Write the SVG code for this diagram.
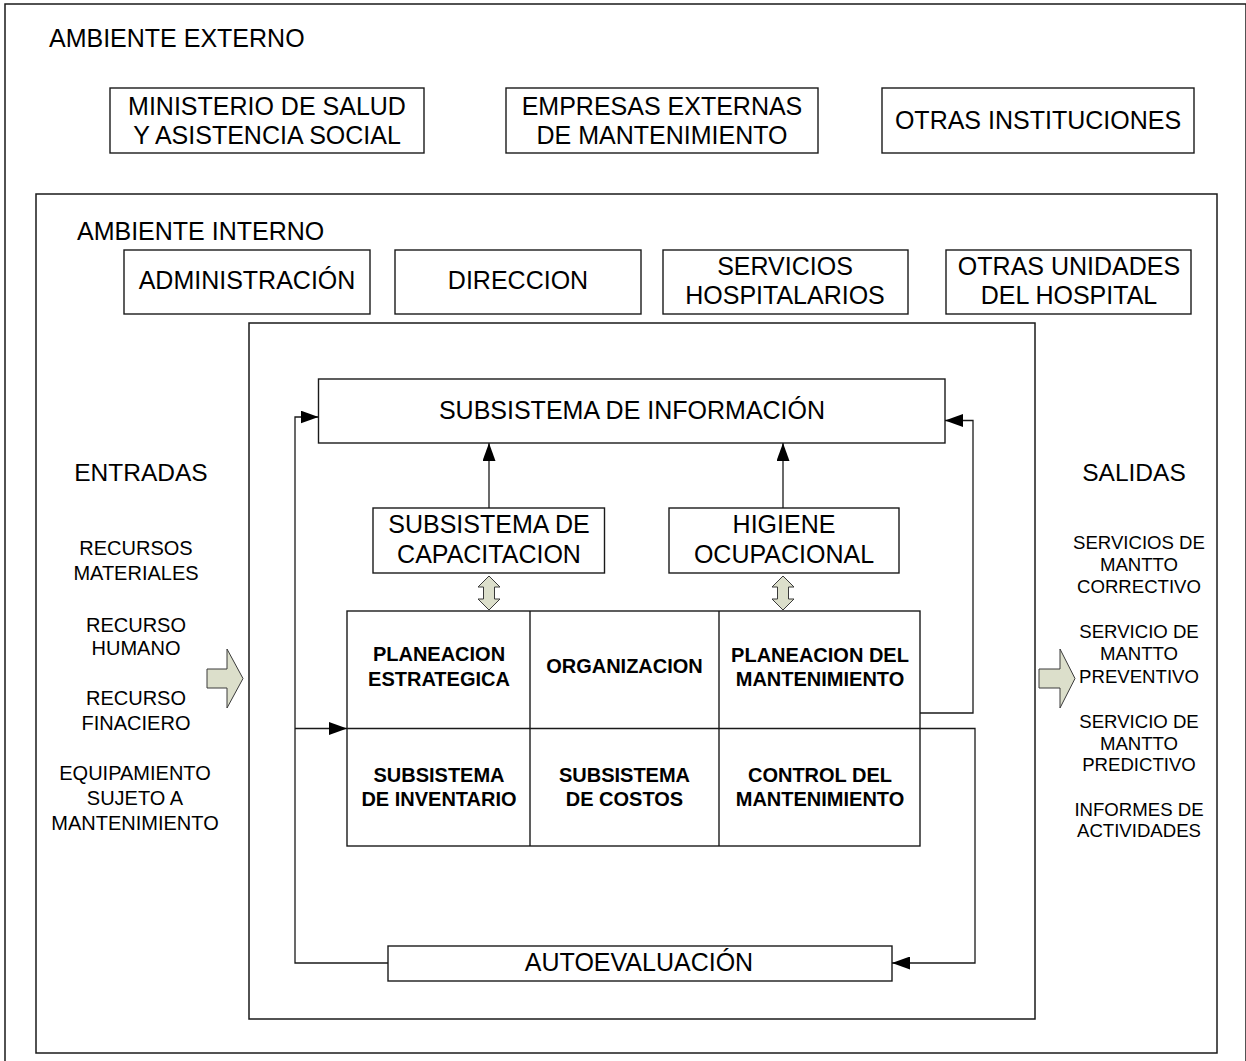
<svg xmlns="http://www.w3.org/2000/svg" width="1246" height="1061" viewBox="0 0 1246 1061">
  <style>
    .frame { fill: none; stroke: #1a1a1a; stroke-width: 1.5; }
    .box { fill: #ffffff; stroke: #1a1a1a; stroke-width: 1.4; }
    .grid { fill: none; stroke: #1a1a1a; stroke-width: 1.4; }
    .conn { fill: none; stroke: #1a1a1a; stroke-width: 1.3; }
    .blk { fill: #dcdfcb; stroke: #3a3a3a; stroke-width: 1; }
    text { font-family: "Liberation Sans", Arial, sans-serif; fill: #000000; }
    .t { font-size: 25px; text-anchor: middle; }
    .lbl { font-size: 25px; }
    .hdr { font-size: 24.5px; text-anchor: middle; }
    .tb { font-size: 20px; font-weight: bold; text-anchor: middle; }
    .in { font-size: 20px; text-anchor: middle; }
    .out { font-size: 18.6px; text-anchor: middle; }
  </style>
  <defs>
    <marker id="arrow" markerUnits="userSpaceOnUse" markerWidth="18" markerHeight="13" refX="18" refY="6.5" orient="auto">
      <path d="M0,0 L18,6.5 L0,13 z" fill="#000000"/>
    </marker>
  </defs>

  <!-- outer environment frame -->
  <g id="ambiente-externo">
    <rect class="frame" x="5" y="4" width="1241" height="1075"/>
    <text class="lbl" x="49" y="47">AMBIENTE EXTERNO</text>
  </g>

  <g id="ministerio">
    <rect class="box" x="110" y="88" width="314" height="65"/>
    <text class="t" x="267" y="115">MINISTERIO DE SALUD</text>
    <text class="t" x="267" y="144">Y ASISTENCIA SOCIAL</text>
  </g>
  <g id="empresas">
    <rect class="box" x="506" y="88" width="312" height="65"/>
    <text class="t" x="662" y="115">EMPRESAS EXTERNAS</text>
    <text class="t" x="662" y="144">DE MANTENIMIENTO</text>
  </g>
  <g id="otras-instituciones">
    <rect class="box" x="882" y="88" width="312" height="65"/>
    <text class="t" x="1038" y="129">OTRAS INSTITUCIONES</text>
  </g>

  <!-- internal environment frame -->
  <g id="ambiente-interno">
    <rect class="frame" x="36" y="194" width="1181" height="859"/>
    <text class="lbl" x="77" y="240">AMBIENTE INTERNO</text>
  </g>

  <g id="administracion">
    <rect class="box" x="124" y="250" width="246" height="64"/>
    <text class="t" x="247" y="289">ADMINISTRACIÓN</text>
  </g>
  <g id="direccion">
    <rect class="box" x="395" y="250" width="246" height="64"/>
    <text class="t" x="518" y="289">DIRECCION</text>
  </g>
  <g id="servicios-hospitalarios">
    <rect class="box" x="663" y="250" width="245" height="64"/>
    <text class="t" x="785" y="275">SERVICIOS</text>
    <text class="t" x="785" y="304">HOSPITALARIOS</text>
  </g>
  <g id="otras-unidades">
    <rect class="box" x="946" y="250" width="245" height="64"/>
    <text class="t" x="1069" y="275">OTRAS UNIDADES</text>
    <text class="t" x="1069" y="304">DEL HOSPITAL</text>
  </g>

  <!-- maintenance system frame -->
  <g id="sistema">
    <rect class="frame" x="249" y="323" width="786" height="696"/>
  </g>

  <!-- inputs -->
  <g id="entradas">
    <text class="hdr" x="141" y="481">ENTRADAS</text>
    <text class="in" x="136" y="555">RECURSOS</text>
    <text class="in" x="136" y="580">MATERIALES</text>
    <text class="in" x="136" y="632">RECURSO</text>
    <text class="in" x="136" y="655">HUMANO</text>
    <text class="in" x="136" y="705">RECURSO</text>
    <text class="in" x="136" y="730">FINACIERO</text>
    <text class="in" x="135" y="780">EQUIPAMIENTO</text>
    <text class="in" x="135" y="805">SUJETO A</text>
    <text class="in" x="135" y="830">MANTENIMIENTO</text>
    <polygon class="blk" points="207,669 227,669 227,649 243,678.5 227,708 227,688 207,688"/>
  </g>

  <!-- outputs -->
  <g id="salidas">
    <text class="hdr" x="1134" y="481">SALIDAS</text>
    <text class="out" x="1139" y="549">SERVICIOS DE</text>
    <text class="out" x="1139" y="571">MANTTO</text>
    <text class="out" x="1139" y="593">CORRECTIVO</text>
    <text class="out" x="1139" y="638">SERVICIO DE</text>
    <text class="out" x="1139" y="660">MANTTO</text>
    <text class="out" x="1139" y="683">PREVENTIVO</text>
    <text class="out" x="1139" y="728">SERVICIO DE</text>
    <text class="out" x="1139" y="750">MANTTO</text>
    <text class="out" x="1139" y="771">PREDICTIVO</text>
    <text class="out" x="1139" y="816">INFORMES DE</text>
    <text class="out" x="1139" y="837">ACTIVIDADES</text>
    <polygon class="blk" points="1039,669 1060,669 1060,649 1075,678.5 1060,708 1060,688 1039,688"/>
  </g>

  <g id="subsistema-informacion">
    <rect class="box" x="318.5" y="379" width="626.5" height="64"/>
    <text class="t" x="632" y="419">SUBSISTEMA DE INFORMACIÓN</text>
  </g>
  <g id="subsistema-capacitacion">
    <rect class="box" x="373" y="508" width="231.5" height="65"/>
    <text class="t" x="489" y="533">SUBSISTEMA DE</text>
    <text class="t" x="489" y="563">CAPACITACION</text>
  </g>
  <g id="higiene-ocupacional">
    <rect class="box" x="669" y="508" width="230" height="65"/>
    <text class="t" x="784" y="533">HIGIENE</text>
    <text class="t" x="784" y="563">OCUPACIONAL</text>
  </g>

  <!-- two-way links between the side subsystems and the core grid -->
  <g id="enlaces-dobles">
    <polygon class="blk" points="489,576 500,587 494.5,587 494.5,599 500,599 489,610 478,599 483.5,599 483.5,587 478,587"/>
    <polygon class="blk" points="783,576 794,587 788.5,587 788.5,599 794,599 783,610 772,599 777.5,599 777.5,587 772,587"/>
  </g>

  <!-- core function grid -->
  <g id="nucleo">
    <rect class="grid" x="347" y="611" width="573" height="235"/>
    <line class="grid" x1="530" y1="611" x2="530" y2="846"/>
    <line class="grid" x1="719" y1="611" x2="719" y2="846"/>
    <line class="grid" x1="347" y1="728.5" x2="920" y2="728.5"/>
  </g>
  <g id="planeacion-estrategica">
    <text class="tb" x="439" y="661">PLANEACION</text>
    <text class="tb" x="439" y="686">ESTRATEGICA</text>
  </g>
  <g id="organizacion">
    <text class="tb" x="624.5" y="673">ORGANIZACION</text>
  </g>
  <g id="planeacion-mantenimiento">
    <text class="tb" x="820" y="662">PLANEACION DEL</text>
    <text class="tb" x="820" y="686">MANTENIMIENTO</text>
  </g>
  <g id="subsistema-inventario">
    <text class="tb" x="439" y="782">SUBSISTEMA</text>
    <text class="tb" x="439" y="806">DE INVENTARIO</text>
  </g>
  <g id="subsistema-costos">
    <text class="tb" x="624.5" y="782">SUBSISTEMA</text>
    <text class="tb" x="624.5" y="806">DE COSTOS</text>
  </g>
  <g id="control-mantenimiento">
    <text class="tb" x="820" y="782">CONTROL DEL</text>
    <text class="tb" x="820" y="806">MANTENIMIENTO</text>
  </g>

  <g id="autoevaluacion">
    <rect class="box" x="388" y="946" width="504" height="35"/>
    <text class="t" x="639" y="971">AUTOEVALUACIÓN</text>
  </g>

  <!-- feedback and information flows -->
  <g id="conectores">
    <path class="conn" d="M388,963 H295 V417 H318.5" marker-end="url(#arrow)"/>
    <path class="conn" d="M295,728.5 H347" marker-end="url(#arrow)"/>
    <path class="conn" d="M489,508 V443" marker-end="url(#arrow)"/>
    <path class="conn" d="M783,508 V443" marker-end="url(#arrow)"/>
    <path class="conn" d="M920,713 H973 V420.5 H945" marker-end="url(#arrow)"/>
    <path class="conn" d="M920,728.5 H975 V963 H892" marker-end="url(#arrow)"/>
  </g>
</svg>
